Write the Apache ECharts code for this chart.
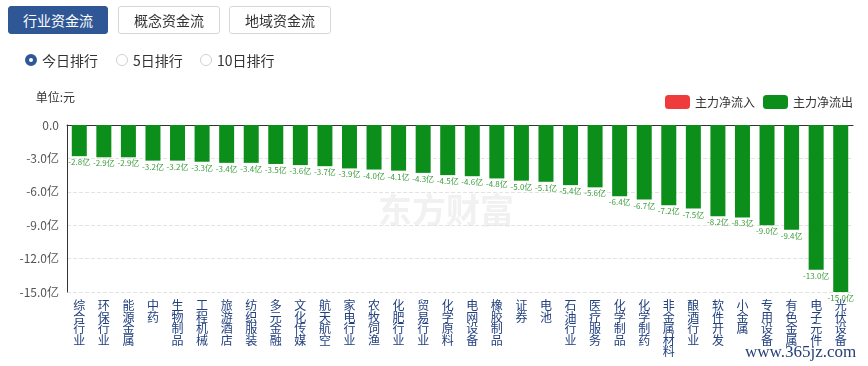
<!DOCTYPE html>
<html><head><meta charset="utf-8">
<script src="https://cdn.jsdelivr.net/npm/echarts@6/dist/echarts.min.js"></script>
<style>
html,body{margin:0;padding:0;background:#fff;font-family:"Noto Sans CJK SC","Noto Sans",sans-serif;}
#wrap{position:relative;width:868px;height:366px;overflow:hidden;}
#chart{position:absolute;left:0;top:0;width:868px;height:366px;}
.btn{position:absolute;top:6px;height:28px;width:100px;box-sizing:border-box;border:1px solid #d6d6d6;border-radius:3px;font-size:14px;line-height:26px;text-align:center;color:#333;background:#fff;z-index:2;}
.btn.on{background:#2f5795;border-color:#2f5795;color:#fff;}
.radio{position:absolute;top:51px;font-size:14px;line-height:18px;color:#333;z-index:2;}
.radio i{position:absolute;left:-17px;top:3px;width:10px;height:10px;border:1px solid #cfcfcf;border-radius:50%;box-sizing:content-box;}
.radio.on i{border:4px solid #2f5795;width:4px;height:4px;left:-17px;top:3px;}
</style></head>
<body><div id="wrap">
<div id="chart"></div>
<div class="btn on" style="left:8px">行业资金流</div>
<div class="btn" style="left:118px;width:102px">概念资金流</div>
<div class="btn" style="left:229px;width:102px">地域资金流</div>
<div class="radio on" style="left:42px"><i></i>今日排行</div>
<div class="radio" style="left:133px"><i></i>5日排行</div>
<div class="radio" style="left:217px"><i></i>10日排行</div>
</div>
<script>
var categories = ['综合行业','环保行业','能源金属','中药','生物制品','工程机械','旅游酒店','纺织服装','多元金融','文化传媒','航天航空','家电行业','农牧饲渔','化肥行业','贸易行业','化学原料','电网设备','橡胶制品','证券','电池','石油行业','医疗服务','化学制品','化学制药','非金属材料','酿酒行业','软件开发','小金属','专用设备','有色金属','电子元件','光伏设备'];
var outflow = [-2.8,-2.9,-2.9,-3.2,-3.2,-3.3,-3.4,-3.4,-3.5,-3.6,-3.7,-3.9,-4.0,-4.1,-4.3,-4.5,-4.6,-4.8,-5.0,-5.1,-5.4,-5.6,-6.4,-6.7,-7.2,-7.5,-8.2,-8.3,-9.0,-9.4,-13.0,-15.0];
var inflow = categories.map(function(){return '-';});
var yTicks = [-15, -12, -9, -6, -3, 0];

var chart = echarts.init(document.getElementById('chart'), null, {renderer:'canvas'});
var font = '"Noto Sans CJK SC","Noto Sans",sans-serif';
chart.setOption({
  animation:false,
  textStyle:{fontFamily:font},
  grid:{left:67, right:15, top:125, height:167},
  legend:{
    right:10, top:90, itemWidth:25, itemHeight:14, itemGap:8,
    textStyle:{fontSize:12,color:'#333',fontFamily:font},
    data:[{name:'主力净流入',itemStyle:{color:'#ef3b3b'}},{name:'主力净流出',itemStyle:{color:'#0c8f1a'}}]
  },
  xAxis:[{
    type:'category', data:categories, position:'bottom',
    axisLine:{show:false}, axisTick:{show:false},
    axisLabel:{interval:0, margin:8, fontSize:12, lineHeight:11.5, color:'#22407f', fontFamily:font,
      formatter:function(v){return v.split('').join('\n');}}
  },{
    type:'category', data:categories, position:'top',
    axisLine:{show:true,onZero:false,lineStyle:{color:'#333',width:1}}, axisTick:{show:false}, axisLabel:{show:false}
  }],
  yAxis:{
    type:'value', min:-15, max:0, interval:3,
    name:'单位:元', nameLocation:'end', nameGap:22,
    nameTextStyle:{color:'#333',fontSize:12,align:'right',padding:[0,-8,0,0]},
    axisLine:{show:true,lineStyle:{color:'#333'}}, axisTick:{show:false},
    axisLabel:{color:'#555',fontSize:12,margin:8,formatter:function(v){return v===0?'0.0':v.toFixed(1)+'亿';}},
    splitLine:{show:true,lineStyle:{color:'#e3e3e3',type:'dashed'}}
  },
  series:[{
    name:'主力净流入', type:'bar', data:inflow, barWidth:15, barGap:'-100%',
    itemStyle:{color:'#ef3b3b'}
  },{
    name:'主力净流出', type:'bar', data:outflow, barWidth:15,
    itemStyle:{color:'#0c8f1a'},
    label:{show:true, position:'bottom', distance:2, fontSize:8, color:'#3c9c3c',
      formatter:function(p){return p.value.toFixed(1)+'亿';}}
  }],
  graphic:[{
    type:'text', left:378, top:193, z:-1,
    style:{text:'东方财富', fontSize:34, fontWeight:'bold', fill:'#f1f1f1', fontFamily:font}
  },{
    type:'text', left:745, top:344, z:10,
    style:{text:'www.365jz.com', fontSize:17, fill:'#243f74', fontFamily:'"Liberation Serif","DejaVu Serif",serif'}
  }]
});
</script>
</body></html>
